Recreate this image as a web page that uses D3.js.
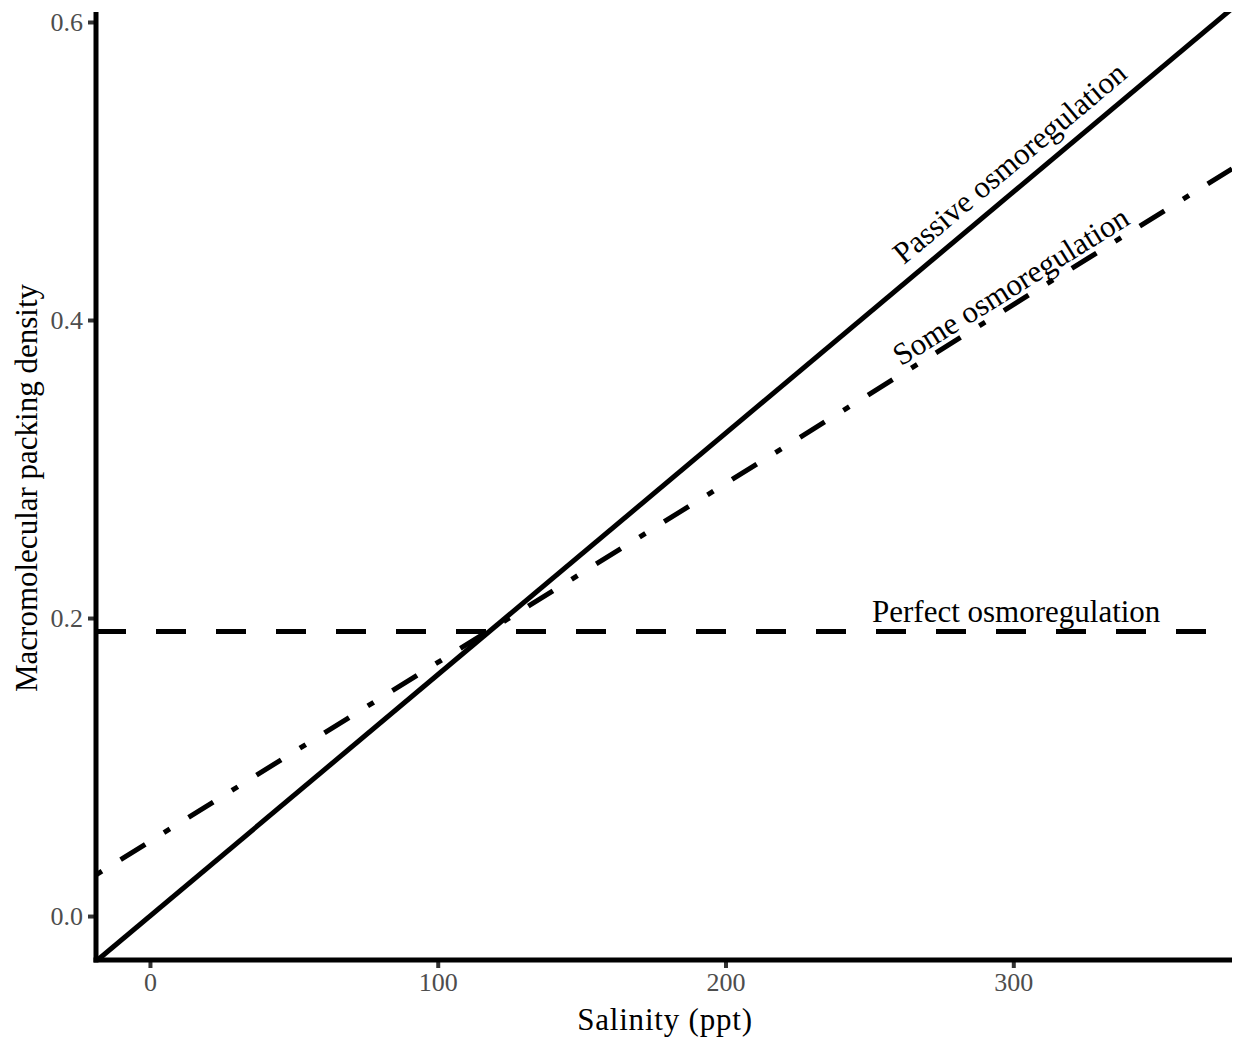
<!DOCTYPE html>
<html>
<head>
<meta charset="utf-8">
<script src="https://cdn.jsdelivr.net/npm/d3@7"></script>
<style>
  html, body { margin: 0; padding: 0; background: #fff; }
  svg { display: block; font-family: "Liberation Serif", "Times New Roman", serif; }
</style>
</head>
<body>
<div id="chart"></div>
<script>
// salinity (ppt) extent drawn, and line values at both ends
var salinityEnds = [-18.75, 376];
var passiveEnds = [-0.0304, 0.609];
var someEnds = [0.0276, 0.5015];
var perfectEnds = [0.191, 0.191];

var xTicks = [0, 100, 200, 300];
var yTicks = [0, 0.2, 0.4, 0.6];

var seriesNames = ['Passive osmoregulation', 'Some osmoregulation', 'Perfect osmoregulation'];
var seriesValues = [passiveEnds, someEnds, perfectEnds];
var seriesDash = ['none', '7,22,29,22', '30,30'];
var labelX = [301, 301, 301];
var labelY = [0.5, 0.4168, 0.197];

var W = 1236, H = 1038;
var pLeft = 96, pRight = 1232, pTop = 12, pBottom = 960;

var svg = d3.select('#chart').append('svg').attr('width', W).attr('height', H);

var x = d3.scaleLinear().domain(salinityEnds).range([pLeft, pRight]);
var y = d3.scaleLinear().domain([-0.0295, 0.6067]).range([pBottom, pTop]);

svg.append('defs').append('clipPath').attr('id', 'panel')
    .append('rect').attr('x', pLeft).attr('y', pTop).attr('width', pRight - pLeft).attr('height', pBottom - pTop);

var line = d3.line()
    .x(function(d) { return x(d[0]); })
    .y(function(d) { return y(d[1]); });

var lines = svg.append('g').attr('clip-path', 'url(#panel)');
seriesValues.forEach(function(v, i) {
    var pts = [[salinityEnds[0], v[0]], [salinityEnds[1], v[1]]];
    lines.append('path')
        .attr('d', line(pts))
        .attr('fill', 'none')
        .attr('stroke', '#000')
        .attr('stroke-width', 5)
        .attr('stroke-dasharray', seriesDash[i]);
});

// labels rotated along each line
seriesValues.forEach(function(v, i) {
    var dx = x(salinityEnds[1]) - x(salinityEnds[0]);
    var dy = y(v[1]) - y(v[0]);
    var ang = Math.atan2(dy, dx) * 180 / Math.PI;
    var px = x(labelX[i]), py = y(labelY[i]);
    svg.append('text')
        .attr('transform', 'translate(' + px + ',' + py + ') rotate(' + ang + ')')
        .attr('text-anchor', 'middle')
        .attr('font-size', '31px')
        .attr('fill', '#000')
        .text(seriesNames[i]);
});

// axes
var xAxis = svg.append('g').attr('transform', 'translate(0,' + pBottom + ')')
    .call(d3.axisBottom(x).tickValues(xTicks).tickSize(6).tickPadding(6).tickFormat(d3.format('d')));
var yAxis = svg.append('g').attr('transform', 'translate(' + pLeft + ',0)')
    .call(d3.axisLeft(y).tickValues(yTicks).tickSize(6).tickPadding(6).tickFormat(d3.format('.1f')));

[xAxis, yAxis].forEach(function(a) {
    a.select('.domain').remove();
    a.attr('font-size', 26).attr('font-family', '"Liberation Serif", "Times New Roman", serif');
    a.selectAll('.tick line').attr('stroke', '#333').attr('stroke-width', 4);
    a.selectAll('.tick text').attr('fill', '#4d4d4d');
});
xAxis.selectAll('.tick line').attr('y1', 2).attr('y2', 8);
xAxis.selectAll('.tick text').attr('y', 13);
yAxis.selectAll('.tick line').attr('x1', -2).attr('x2', -8);
yAxis.selectAll('.tick text').attr('x', -13);

svg.append('line').attr('x1', pLeft).attr('x2', pLeft).attr('y1', pTop).attr('y2', pBottom + 2.5)
    .attr('stroke', '#000').attr('stroke-width', 5);
svg.append('line').attr('x1', pLeft - 2.5).attr('x2', pRight).attr('y1', pBottom).attr('y2', pBottom)
    .attr('stroke', '#000').attr('stroke-width', 5);

svg.append('text')
    .attr('x', 665).attr('y', 1030)
    .attr('text-anchor', 'middle').attr('font-size', '31px')
    .attr('letter-spacing', '0.8px')
    .text('Salinity (ppt)');

svg.append('text')
    .attr('transform', 'translate(37,488) rotate(-90)')
    .attr('text-anchor', 'middle').attr('font-size', '31px')
    .text('Macromolecular packing density');
</script>
</body>
</html>
